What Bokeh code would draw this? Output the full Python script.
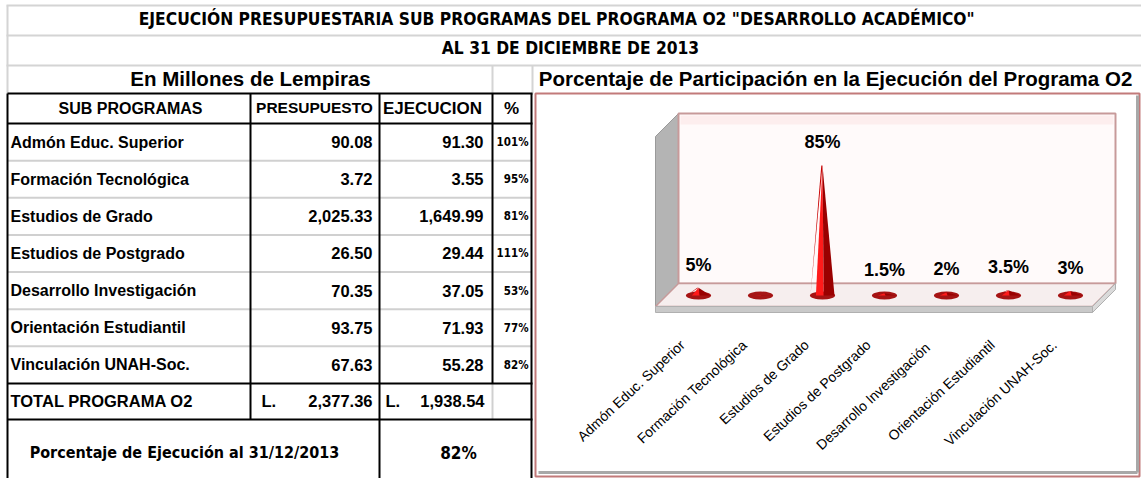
import math
from bokeh.plotting import figure
from bokeh.models import Range1d, ColumnDataSource
from bokeh.core.properties import value
from bokeh.embed import file_html
from bokeh.resources import INLINE

# ---------------- data ----------------
title1 = 'EJECUCIÓN  PRESUPUESTARIA   SUB PROGRAMAS DEL PROGRAMA O2  "DESARROLLO ACADÉMICO"'
title2 = "AL 31 DE DICIEMBRE DE 2013"
units_label = "En Millones de Lempiras"
headers = ["SUB PROGRAMAS", "PRESUPUESTO", "EJECUCION", "%"]
subprogramas = ["Admón Educ. Superior", "Formación Tecnológica", "Estudios de Grado",
                "Estudios de Postgrado", "Desarrollo  Investigación",
                "Orientación Estudiantil", "Vinculación UNAH-Soc."]
presupuesto = [90.08, 3.72, 2025.33, 26.50, 70.35, 93.75, 67.63]
ejecucion = [91.30, 3.55, 1649.99, 29.44, 37.05, 71.93, 55.28]
pct_ejecucion = [101, 95, 81, 111, 53, 77, 82]
total_label = "TOTAL PROGRAMA O2"
total_presupuesto = 2377.36
total_ejecucion = 1938.54
footer_label = "Porcentaje de Ejecución al 31/12/2013"
footer_pct = 82
chart_title = "Porcentaje de Participación en la Ejecución del Programa O2"
chart_categories = subprogramas
participacion = [5, 0.2, 85, 1.5, 2, 3.5, 3]
participacion_labels = ["5%", "", "85%", "1.5%", "2%", "3.5%", "3%"]

# ---------------- layout constants (page pixels) ----------------
W, H = 1141, 478
SANS = "Liberation Sans"
NARROW = "DejaVu Sans Condensed, Liberation Sans"

p = figure(width=W, height=H, x_range=Range1d(0, W), y_range=Range1d(H, 0),
           x_axis_type=None, y_axis_type=None, output_backend="svg",
           toolbar_location=None, min_border=0)
p.grid.visible = False
p.outline_line_color = None
p.background_fill_color = "white"

# chart scales: category index -> page x, percentage -> page y
X0, DX = 698, 62
Y0, SY = 295, 1.53
p.extra_x_ranges = {"cat": Range1d((0 - X0) / DX, (W - X0) / DX)}
p.extra_y_ranges = {"pct": Range1d((Y0 - H) / SY, (Y0 - 0) / SY)}


def add_text(xs, ys, texts, size, align="left", font=SANS, style="bold", color="black",
             angle=0.0, baseline="middle", x_offset=0, y_offset=0, ranges=None):
    src = ColumnDataSource(dict(x=list(xs), y=list(ys), t=list(texts)))
    kw = {}
    if ranges:
        kw = dict(x_range_name=ranges[0], y_range_name=ranges[1])
    p.text(x="x", y="y", text="t", source=src, text_font=value(font),
           text_font_size=f"{size}px", text_font_style=style, text_align=align,
           text_baseline=baseline, text_color=color, angle=angle,
           x_offset=x_offset, y_offset=y_offset, **kw)


def seg(x0, y0, x1, y1, color, width):
    p.segment(x0=x0, y0=y0, x1=x1, y1=y1, line_color=color, line_width=width)


GRID = "#d4d4d4"
# spreadsheet gridlines
seg([6, 6, 6], [5, 35, 65], [W] * 3, [5, 35, 65], GRID, 2)
seg([7, 492, 532], [5, 65, 65], [7, 492, 532], [93, 93, 93], GRID, 2)

# table rows
ROW0, RH = 123, 37.14
n = len(subprogramas)
row_c = [ROW0 + RH * (i + 0.5) for i in range(n)]
row_lines = [ROW0 + RH * k for k in range(1, n)]
seg([7] * len(row_lines), row_lines, [531] * len(row_lines), row_lines, "#d0d0d0", 2)
TOT_T, TOT_B = ROW0 + RH * n, ROW0 + RH * n + 36
seg([492], [TOT_T], [492], [TOT_B], "#d0d0d0", 2)

# black borders
hy = [93, 123, TOT_T, TOT_B]
seg([7] * 4, hy, [532] * 4, hy, "black", 2)
seg([7, 250, 379, 492, 531], [93] * 5, [7, 250, 379, 492, 531],
    [H, TOT_B, H, TOT_T, H], "black", 2)

# titles
add_text([567], [18], [title1], 17.3, align="center", font=NARROW)
add_text([570], [47], [title2], 17.3, align="center", font=NARROW)
add_text([250], [78], [units_label], 20.5, align="center")
add_text([130], [108], headers[:1], 16, align="center")
add_text([314], [107], [headers[1]], 15.5, align="center")
add_text([432, 511], [108, 108], headers[2:], 17, align="center")

# table body
add_text([10] * n, row_c, subprogramas, 16)
add_text([372] * n, row_c, [f"{v:,.2f}" for v in presupuesto], 16.5, align="right")
add_text([483] * n, row_c, [f"{v:,.2f}" for v in ejecucion], 16.5, align="right")
add_text([528] * n, row_c, [f"{v}%" for v in pct_ejecucion], 11.5, align="right", font=NARROW)
tot_c = (TOT_T + TOT_B) / 2
add_text([10], [tot_c], [total_label], 16.5)
add_text([261, 385], [tot_c] * 2, ["L.", "L."], 16.5)
add_text([372, 484], [tot_c] * 2, [f"{total_presupuesto:,.2f}", f"{total_ejecucion:,.2f}"], 16.5, align="right")
add_text([184], [452], [footer_label], 16, align="center", font=NARROW)
add_text([458], [452], [f"{footer_pct}%"], 17, align="center", font=NARROW)

# ---------------- chart ----------------
add_text([835], [78], [chart_title], 20.5, align="center")
# frame
p.quad(left=535, right=1139, top=93, bottom=476, fill_color="white",
       line_color="#c27a7a", line_width=2)
seg([538, 1137], [472, 95], [1137, 1137], [472, 472], "#a8a8a8", 3)

# 3D box
p.patch([655, 678, 678, 655], [136, 113, 283, 306], fill_color="#b4b4b4", line_color="#9a9a9a")
p.quad(left=678, right=1115, top=113, bottom=283, fill_color="#fffafa",
       line_color="#c79a9a", line_width=2)
p.quad(left=680, right=1113, top=115, bottom=124, fill_color="#fdeeee", line_color=None)
p.patch([655, 678, 1115, 1092], [306, 283, 283, 306], fill_color="#f6eeee",
        line_color="#c79a9a", line_width=1.5)
p.patch([655, 1092, 1092, 655], [306, 306, 312, 312], fill_color="#c9c9c9", line_color="#b0b0b0")
p.patch([1092, 1115, 1115, 1092], [306, 283, 289, 312], fill_color="#dadada", line_color="#b0b0b0")

# cones
idx = list(range(len(participacion)))
hw = 12 / DX
R = ("cat", "pct")
p.ellipse(x=idx, y=[0] * len(idx), width=2.1 * hw, height=8 / SY, fill_color="#a51414",
          line_color=None, x_range_name="cat", y_range_name="pct")
p.patches([[i - hw, i - hw * 0.1, i] for i in idx], [[0, v, v] for v in participacion],
          fill_color="#c80000", line_color=None, x_range_name="cat", y_range_name="pct")
p.patches([[i - hw * 0.55, i, i + hw * 0.1] for i in idx], [[0, v, 0] for v in participacion],
          fill_color="#ff1a1a", line_color=None, x_range_name="cat", y_range_name="pct")
p.patches([[i + hw * 0.1, i, i + hw] for i in idx], [[0, v, 0] for v in participacion],
          fill_color="#9a0000", line_color=None, x_range_name="cat", y_range_name="pct")

# data labels
add_text(idx, participacion, participacion_labels, 18, align="center", y_offset=-23, ranges=R)

# category labels
add_text(idx, [0] * len(idx), chart_categories, 14, align="right", style="normal",
         angle=math.radians(43), x_offset=-16, y_offset=47, ranges=R)

open("out.html", "w").write(file_html(p, INLINE))
